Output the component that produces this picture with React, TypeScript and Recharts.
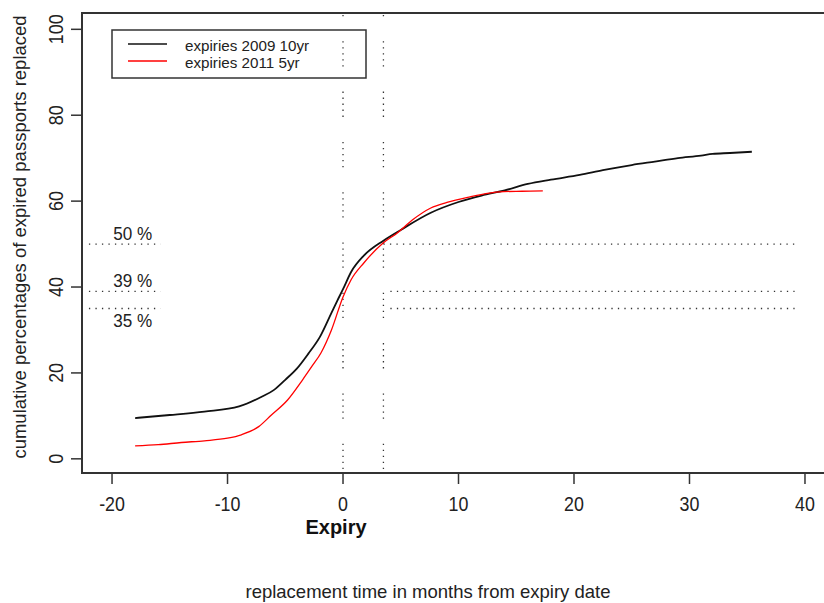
import { LineChart, Line, XAxis, YAxis, ReferenceLine, ReferenceArea } from 'recharts';

// months from expiry date, cumulative % of expired passports replaced
const months2009 = [-18, -15, -12, -9, -7, -6, -5, -4, -3, -2, -1, -0.5, 0, 0.7, 1.8, 3.5, 5, 7.6, 10, 12, 14, 16, 18, 20.5, 22.5, 25, 27, 29, 31, 32, 33.5, 35.4];
const replaced2009 = [9.5, 10.2, 11.0, 12.2, 14.5, 16.0, 18.4, 21, 24.5, 28.4, 34, 36.8, 39.5, 43.5, 47.3, 50.8, 53.3, 57.3, 59.8, 61.3, 62.5, 64, 65, 66.1, 67.2, 68.4, 69.2, 70, 70.6, 71, 71.2, 71.5];
const months2011 = [-18, -16, -14, -12, -10, -8.8, -7.3, -6.2, -4.8, -3.5, -2.7, -1.9, -1, 0, 0.7, 1.8, 3.5, 4.7, 6, 7.6, 9, 11, 12.5, 13.9, 15.5, 17.3];
const replaced2011 = [3.0, 3.3, 3.8, 4.2, 4.8, 5.6, 7.5, 10.2, 13.7, 18.4, 21.5, 24.7, 30, 37.7, 41.7, 45.6, 50.3, 52.6, 55.6, 58.4, 59.7, 61, 61.8, 62.2, 62.3, 62.4];

const xTicks = [-20, -10, 0, 10, 20, 30, 40];
const yTicks = [0, 20, 40, 60, 80, 100];
const markerMonths = [0, 3.5];
const shareLevels = [50, 39, 35];
const shareLabels = ['50 %', '39 %', '35 %'];
const shareRightStart = [3.5, 4.1, 4.1];

const series2009 = months2009.map((m, i) => ({ month: m, pct: replaced2009[i] }));
const series2011 = months2011.map((m, i) => ({ month: m, pct: replaced2011[i] }));

const font = '"Liberation Sans", Arial, sans-serif';

// tick labels in the original are condensed
const XTick = (p: any) => (
  <text transform={`translate(${p.x},${p.y}) scale(0.85,1)`} dy="0.71em" textAnchor="middle" fontSize={21} fill="#222" fontFamily={font}>
    {p.payload.value}
  </text>
);
const YTick = (p: any) => (
  <text transform={`translate(${p.x},${p.y}) rotate(-90) scale(0.85,1)`} textAnchor="middle" fontSize={21} fill="#222" fontFamily={font}>
    {p.payload.value}
  </text>
);

export default function App() {
  return (
    <div style={{ position: 'absolute', left: 0, top: 0, width: 824, height: 603, overflow: 'hidden', background: '#fff' }}>
      <LineChart width={840} height={603} margin={{ top: 13, right: 7.3, bottom: 70, left: 12 }}>
        <XAxis dataKey="month" type="number" domain={[-22.6, 42.4]} ticks={xTicks} allowDataOverflow
          axisLine={false} tickSize={11} tickMargin={12} height={60}
          tickLine={{ stroke: '#333', strokeWidth: 1.5 }} tick={<XTick />} />
        <YAxis type="number" domain={[-3.3, 103.8]} ticks={yTicks} allowDataOverflow
          axisLine={false} tickSize={11} tickMargin={8} width={70}
          tickLine={{ stroke: '#333', strokeWidth: 1.5 }} tick={<YTick />} />
        <ReferenceArea x1={-22.6} x2={42.4} y1={-3.3} y2={103.8} fill="none" stroke="#333" strokeWidth={2} ifOverflow="visible" />
        {markerMonths.map(m => (
          <ReferenceLine key={m} x={m} stroke="#333" strokeWidth={1.3}
            strokeDasharray="0 4 1.3 4.7 1.3 4.7 1.3 4.7 1.3 4.7 1.3 21" />
        ))}
        {shareLevels.map((v, i) => (
          <ReferenceLine key={'l' + v} segment={[{ x: -22, y: v }, { x: -15.8, y: v }]} stroke="#333" strokeWidth={1.3} strokeDasharray="1.3 5.2"
            label={(p: any) => (
              <text x={p.viewBox.x + p.viewBox.width / 2 + 8} y={v === 35 ? p.viewBox.y + 19 : p.viewBox.y - 4}
                textAnchor="middle" fontSize={19} fill="#222" fontFamily={font}
                transform={`translate(${(p.viewBox.x + p.viewBox.width / 2 + 8) * 0.1},0) scale(0.9,1)`}>{shareLabels[i]}</text>
            )} />
        ))}
        {shareLevels.map((v, i) => (
          <ReferenceLine key={'r' + v} segment={[{ x: shareRightStart[i], y: v }, { x: 39.1, y: v }]} stroke="#333" strokeWidth={1.3} strokeDasharray="1.3 5.2" />
        ))}
        <Line data={series2009} dataKey="pct" type="monotone" stroke="#111" strokeWidth={1.8} dot={false} isAnimationActive={false} />
        <Line data={series2011} dataKey="pct" type="monotone" stroke="#ff0000" strokeWidth={1.3} dot={false} isAnimationActive={false} />
      </LineChart>
      <svg width={824} height={603} style={{ position: 'absolute', left: 0, top: 0, pointerEvents: 'none' }}>
        <text transform="translate(25.5,237) rotate(-90)" textAnchor="middle" fontSize={18.5} fill="#222" fontFamily={font}>
          cumulative percentages of expired passports replaced
        </text>
        <text x={336} y={534} textAnchor="middle" fontSize={20} fontWeight="bold" fill="#111" fontFamily={font}>Expiry</text>
        <text x={428} y={598} textAnchor="middle" fontSize={18.5} fill="#222" fontFamily={font}>replacement time in months from expiry date</text>
        <rect x={112} y={30} width={254} height={48} fill="none" stroke="#333" strokeWidth={1.5} />
        <line x1={128} x2={167} y1={44} y2={44} stroke="#111" strokeWidth={1.5} />
        <line x1={128} x2={167} y1={61} y2={61} stroke="#ff0000" strokeWidth={1.3} />
        <text x={185} y={51} fontSize={15.2} fill="#222" fontFamily={font}>expiries 2009 10yr</text>
        <text x={185} y={68} fontSize={15.2} fill="#222" fontFamily={font}>expiries 2011 5yr</text>
      </svg>
    </div>
  );
}
